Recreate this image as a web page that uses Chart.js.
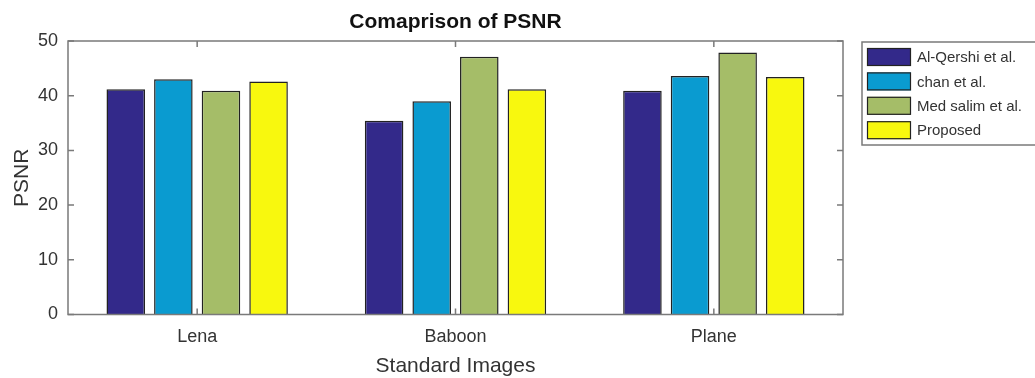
<!DOCTYPE html>
<html>
<head>
<meta charset="utf-8">
<script src="https://cdn.jsdelivr.net/npm/chart.js@4.4.0/dist/chart.umd.min.js"></script>
<style>
  html, body { margin: 0; padding: 0; background: #fff; }
  #wrap { width: 1035px; height: 378px; }
</style>
</head>
<body>
<div id="wrap"><canvas id="grafico" width="1035" height="378"></canvas></div>
<script>
const categorias = ['Lena', 'Baboon', 'Plane'];
const alQershi = [41.2, 35.4, 40.9];
const chan = [43.0, 39.0, 43.6];
const medSalim = [40.9, 47.1, 47.9];
const proposto = [42.6, 41.2, 43.4];
const yTicks = [0, 10, 20, 30, 40, 50];

const FONTE = '"Liberation Sans", Arial, Helvetica, sans-serif';
const CINZA_EIXO = '#7a7a7a';
const TEXTO = '#333333';

// moldura com marcas para dentro, estilo MATLAB
const molduraPlugin = {
  id: 'moldura',
  afterDatasetsDraw(chart) {
    const { ctx, chartArea: a, scales } = chart;
    ctx.save();
    ctx.strokeStyle = CINZA_EIXO;
    ctx.lineWidth = 1.5;
    ctx.strokeRect(a.left, a.top, a.right - a.left, a.bottom - a.top);
    ctx.beginPath();
    yTicks.forEach(v => {
      const y = scales.y.getPixelForValue(v);
      ctx.moveTo(a.left, y); ctx.lineTo(a.left + 6, y);
      ctx.moveTo(a.right, y); ctx.lineTo(a.right - 6, y);
    });
    categorias.forEach((c, i) => {
      const x = scales.x.getPixelForValue(i);
      ctx.moveTo(x, a.top); ctx.lineTo(x, a.top + 6);
      ctx.moveTo(x, a.bottom); ctx.lineTo(x, a.bottom - 6);
    });
    ctx.stroke();
    ctx.restore();
  }
};

// legenda com caixa, fora da area do grafico
const legendaPlugin = {
  id: 'legendaCaixa',
  afterDraw(chart) {
    const { ctx } = chart;
    const x0 = 862, y0 = 42, larg = 200, alt = 103;
    ctx.save();
    ctx.fillStyle = '#fff';
    ctx.fillRect(x0, y0, larg, alt);
    ctx.strokeStyle = CINZA_EIXO;
    ctx.lineWidth = 1.5;
    ctx.strokeRect(x0, y0, larg, alt);
    ctx.font = '15px ' + FONTE;
    ctx.textBaseline = 'middle';
    chart.data.datasets.forEach((ds, i) => {
      const cy = y0 + 15 + i * 24.4;
      ctx.fillStyle = ds.backgroundColor;
      ctx.fillRect(867, cy - 9, 44, 18);
      ctx.strokeStyle = '#222';
      ctx.lineWidth = 1.2;
      ctx.strokeRect(867.5, cy - 8.5, 43, 17);
      ctx.fillStyle = TEXTO;
      ctx.fillText(ds.label, 917, cy + 1);
    });
    ctx.restore();
  }
};

const ctx = document.getElementById('grafico').getContext('2d');
new Chart(ctx, {
  type: 'bar',
  data: {
    labels: categorias,
    datasets: [
      { label: 'Al-Qershi et al.', data: alQershi, backgroundColor: '#33298a' },
      { label: 'chan et al.', data: chan, backgroundColor: '#0a9bd0' },
      { label: 'Med salim et al.', data: medSalim, backgroundColor: '#a5bd68' },
      { label: 'Proposed', data: proposto, backgroundColor: '#f8f80e' }
    ].map(d => Object.assign(d, {
      borderColor: '#222222',
      borderWidth: 1.5,
      categoryPercentage: 0.737,
      barPercentage: 0.81
    }))
  },
  options: {
    responsive: false,
    animation: false,
    layout: { padding: { left: 0, right: 192, top: 0, bottom: 0 } },
    plugins: {
      legend: { display: false },
      tooltip: { enabled: false },
      title: {
        display: true,
        fullSize: false,
        text: 'Comaprison of PSNR',
        color: '#111',
        font: { family: FONTE, size: 21, weight: 'bold', lineHeight: 1.2 },
        padding: { top: 10, bottom: 5.8 }
      }
    },
    scales: {
      x: {
        grid: { display: false, drawTicks: false },
        border: { display: false },
        ticks: { color: TEXTO, padding: 11.4, font: { family: FONTE, size: 18, lineHeight: 1.2 } },
        title: {
          display: true,
          text: 'Standard Images',
          color: TEXTO,
          font: { family: FONTE, size: 21, lineHeight: 1.0 },
          padding: { top: 0, bottom: 1 }
        },
        afterFit(s) { s.height = 63.5; }
      },
      y: {
        min: 0,
        max: 50,
        grid: { display: false, drawTicks: false },
        border: { display: false },
        afterBuildTicks(s) { s.ticks = yTicks.map(v => ({ value: v })); },
        ticks: { color: TEXTO, padding: 10, font: { family: FONTE, size: 18 } },
        title: {
          display: true,
          text: 'PSNR',
          color: TEXTO,
          font: { family: FONTE, size: 21, lineHeight: 1.2 },
          padding: { top: 9.5, bottom: 0 }
        },
        afterFit(s) { s.width = 68; }
      }
    }
  },
  plugins: [molduraPlugin, legendaPlugin]
});
</script>
</body>
</html>
